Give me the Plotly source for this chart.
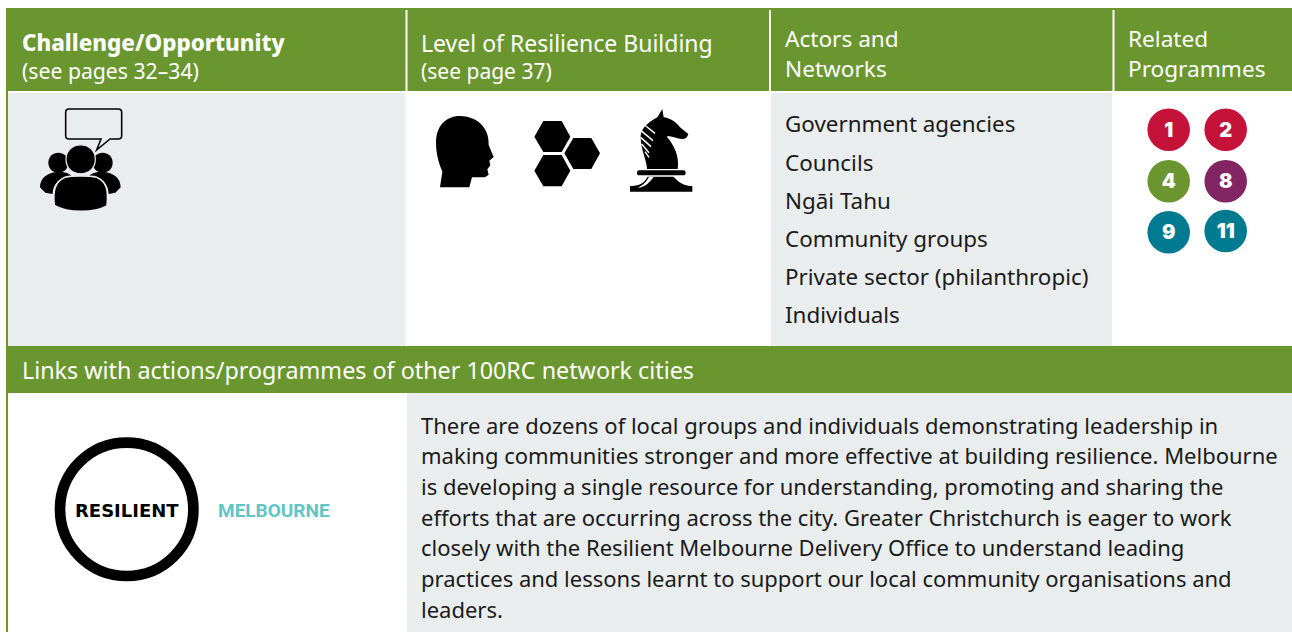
import plotly.graph_objects as go

level_title = "Level of Resilience Building"
challenge_title = "Challenge/Opportunity"
challenge_note = "(see pages 32–34)"
level_note = "(see page 37)"
actors_header = ["Actors and", "Networks"]
programmes_header = ["Related", "Programmes"]
actors = ["Government agencies", "Councils", "Ngāi Tahu", "Community groups",
          "Private sector (philanthropic)", "Individuals"]
programme_numbers = ["1", "2", "4", "8", "9", "11"]
links_title = "Links with actions/programmes of other 100RC network cities"
body_lines = [
    "There are dozens of local groups and individuals demonstrating leadership in",
    "making communities stronger and more effective at building resilience. Melbourne",
    "is developing a single resource for understanding, promoting and sharing the",
    "efforts that are occurring across the city. Greater Christchurch is eager to work",
    "closely with the Resilient Melbourne Delivery Office to understand leading",
    "practices and lessons learnt to support our local community organisations and",
    "leaders.",
]

GREEN = "#6a962f"
GREY = "#e9edee"
FONT = "Noto Sans"
SIZE = 22

prog_x = [1168.7, 1225.7, 1168.7, 1225.7, 1168.7, 1225.7]
prog_y = [129.7, 129.7, 181.3, 181.3, 232.3, 231]
prog_colors = ["#c41239", "#c41239", "#6b962f", "#832562", "#007a91", "#007a91"]
actor_y = [124, 163, 201, 239, 277, 315]
body_y = [426, 456, 487, 518, 548, 579, 610]

shapes = []
ann = []


def rect(x0, y0, x1, y1, color):
    shapes.append(dict(type="rect", x0=x0, y0=y0, x1=x1, y1=y1,
                       fillcolor=color, line=dict(width=0), layer="below"))


def text(x, y, s, size=SIZE, color="#1a1a1a", weight=400, family=FONT):
    ann.append(dict(x=x - 2, y=y - 1, text=s, showarrow=False, xanchor="left", yanchor="middle",
                    xref="x", yref="y", align="left",
                    font=dict(family=family, size=size, color=color, weight=weight)))


def icon(path, ox, oy, fill="#000000", line=None, lw=0):
    """Path given in 3x zoomed coordinates as tokens; converted to page pixels."""
    out = []
    nums = []
    for tok in path.split():
        if tok.isalpha():
            out.append(tok)
        else:
            nums.append(float(tok))
            if len(nums) == 2:
                out.append(f"{ox + nums[0] / 3:.2f},{oy + nums[1] / 3:.2f}")
                nums = []
    shapes.append(dict(type="path", path=" ".join(out), fillcolor=fill,
                       line=dict(width=lw, color=line or fill)))


# blocks
rect(6, 8, 1292, 91, GREEN)
rect(6, 8, 8, 632, GREEN)
rect(8, 93, 405, 346, GREY)
rect(771, 93, 1112, 346, GREY)
rect(6, 346, 1292, 393, GREEN)
rect(407, 393, 1292, 632, GREY)
for sx in (406.5, 770, 1113.5):
    shapes.append(dict(type="line", x0=sx, x1=sx, y0=10, y1=91, line=dict(color="white", width=2)))

# people icon
PX, PY = 30, 100
icon("M 117 27 L 265 27 Q 275 27 275 37 L 275 107 Q 275 117 265 117 L 240 117 L 200 150 L 213 117 "
     "L 117 117 Q 107 117 107 107 L 107 37 Q 107 27 117 27 Z", PX, PY,
     fill="rgba(0,0,0,0)", line="#000000", lw=1.6)
icon("M 55 188 C 55 148 115 148 115 188 C 115 228 55 228 55 188 Z", PX, PY)
icon("M 188 188 C 188 148 248 148 248 188 C 248 228 188 228 188 188 Z", PX, PY)
icon("M 30 262 C 30 235 50 218 85 215 C 105 215 118 220 125 228 C 90 235 68 250 68 282 L 46 278 Z", PX, PY)
icon("M 272 262 C 272 235 252 218 217 215 C 197 215 184 220 177 228 C 212 235 236 250 236 282 L 256 278 Z", PX, PY)
icon("M 108 178 C 108 120 196 120 196 178 C 196 236 108 236 108 178 Z", PX, PY, line=GREY, lw=1.2)
icon("M 73 316 C 68 270 75 245 105 232 C 125 226 178 226 200 232 C 230 245 236 270 231 318 "
     "C 190 340 115 340 73 316 Z", PX, PY, line=GREY, lw=1.6)

# head icon
icon("M 90 292 L 97 245 C 85 215 78 190 78 155 C 80 100 115 78 150 78 C 210 80 238 120 236 165 "
     "L 251 201 L 238 212 L 241 226 L 232 238 L 236 254 L 225 262 L 186 262 L 178 292 Z", 410, 90)
# hexagons
icon("M 373 140 L 400 93 L 455 93 L 481 140 L 455 186 L 400 186 Z", 410, 90)
icon("M 373 242 L 400 195 L 455 195 L 481 242 L 455 289 L 400 289 Z", 410, 90)
icon("M 463 190 L 490 144 L 544 144 L 570 190 L 544 237 L 490 237 Z", 410, 90)
# knight
KX, KY = 625, 100
icon("M 66 207 C 66 185 48 150 47 115 C 46 90 60 72 97 52 L 112 27 L 116 52 C 140 56 155 68 165 82 "
     "L 190 102 C 188 112 180 118 170 117 C 155 117 135 105 125 110 C 145 130 165 170 158 207 Z", KX, KY)
for st in ("M 55 72 L 90 100", "M 48 92 L 84 122", "M 47 112 L 78 140", "M 50 132 L 72 158", "M 60 155 L 72 172"):
    icon(st, KX, KY, fill="rgba(0,0,0,0)", line="#ffffff", lw=1.5)
icon("M 43 211 L 175 211 Q 182 211 182 218 Q 182 226 175 226 L 43 226 Q 36 226 36 218 Q 36 211 43 211 Z", KX, KY)
icon("M 15 275 L 15 258 C 40 258 58 250 68 230 L 145 230 C 160 245 175 258 202 258 L 202 275 Z", KX, KY)
icon("M 38 263 C 55 255 65 245 72 230 L 86 230 C 75 245 62 262 38 263 Z", KX, KY, fill="#ffffff", line="#ffffff")

# logo ring
shapes.append(dict(type="circle", x0=60, y0=442.6, x1=193.4, y1=576, fillcolor="rgba(0,0,0,0)",
                   line=dict(color="#000000", width=10.7)))

# header text: title and note share one text block, so the lines cannot collide
text(22, 57, f'<span style="font-size:22.4px;font-weight:800">{challenge_title}</span><br>{challenge_note}',
     size=21.2, color="white")
text(421, 57, f'<span style="font-size:23px">{level_title}</span><br>{level_note}', size=21, color="white")
for i, s in enumerate(actors_header):
    text(785, 39 + 30 * i, s, size=22.6, color="white")
for i, s in enumerate(programmes_header):
    text(1128, 39 + 30 * i, s, size=22.6, color="white")
for y, s in zip(actor_y, actors):
    text(785, y, s, size=22.4)
text(22, 371, links_title, size=23.3, color="white")
for y, s in zip(body_y, body_lines):
    text(421, y, s)
text(75, 511, "RESILIENT", size=18, color="#000000", weight=700, family="DejaVu Sans")
text(218, 511, "MELBOURNE", size=19, color="#5fc5c5", weight=700, family="Roboto")

fig = go.Figure()
fig.add_trace(go.Scatter(
    x=prog_x, y=prog_y, mode="markers",
    marker=dict(size=42.6, color=prog_colors, line=dict(width=0)),
    hoverinfo="skip", showlegend=False, cliponaxis=False,
))
fig.add_trace(go.Scatter(
    x=prog_x, y=[v + 2 for v in prog_y], mode="text", text=programme_numbers,
    textposition="middle center",
    textfont=dict(family="Inter", size=20, color="white", weight=900),
    hoverinfo="skip", showlegend=False, cliponaxis=False,
))
fig.update_layout(
    width=1292, height=632, margin=dict(l=0, r=0, t=0, b=0),
    paper_bgcolor="white", plot_bgcolor="white",
    xaxis=dict(range=[0, 1292], visible=False, fixedrange=True),
    yaxis=dict(range=[632, 0], visible=False, fixedrange=True),
    shapes=shapes, annotations=ann,
)
fig.write_html("out.html", post_script="document.body.style.margin='0';document.documentElement.style.overflow='hidden';",
               config={"displayModeBar": False})
